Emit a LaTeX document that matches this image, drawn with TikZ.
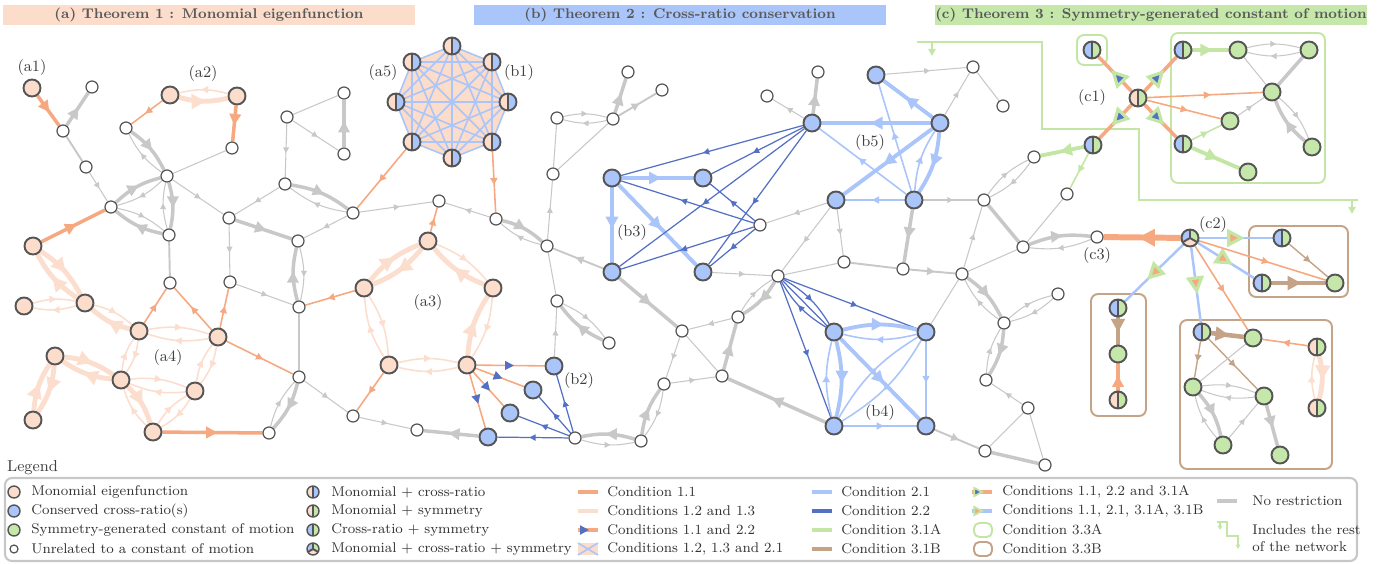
\documentclass[tikz,border=0pt]{standalone}
\usepackage{tikz}
\usetikzlibrary{arrows.meta, backgrounds, decorations.markings}
\definecolor{monocol}{RGB}{252, 220, 203}
\definecolor{xratcol}{RGB}{170, 197, 250}
\definecolor{symcol}{RGB}{197, 232, 170}
\definecolor{nodeline}{RGB}{85, 85, 85}
\definecolor{c11col}{RGB}{246, 168, 128}
\definecolor{c12col}{RGB}{252, 222, 206}
\definecolor{c21col}{RGB}{170, 197, 250}
\definecolor{c22col}{RGB}{84, 112, 196}
\definecolor{c31acol}{RGB}{195, 230, 165}
\definecolor{c31bcol}{RGB}{196, 163, 134}
\definecolor{freecol}{RGB}{200, 200, 200}
\tikzset{
  % network nodes
  dot/.style    = {circle, draw=nodeline, line width=0.7pt, fill=white,
                   minimum size=2.4mm, inner sep=0pt},
  big/.style    = {circle, draw=nodeline, line width=1.1pt,
                   minimum size=3.4mm, inner sep=0pt},
  mono/.style   = {big, fill=monocol},
  xrat/.style   = {big, fill=xratcol},
  symm/.style   = {big, fill=symcol},
  half/.style 2 args = {big, path picture={
      \fill[#1] (path picture bounding box.south west) rectangle
                (path picture bounding box.north);
      \fill[#2] (path picture bounding box.south) rectangle
                (path picture bounding box.north east);
      \draw[nodeline, line width=1.1pt] (path picture bounding box.south)
                -- (path picture bounding box.north);}},
  monoxr/.style = {half={monocol}{xratcol}},
  monosy/.style = {half={monocol}{symcol}},
  xrsy/.style   = {half={xratcol}{symcol}},
  allthree/.style = {big, path picture={
      \fill[xratcol] (path picture bounding box.center) -- +(90:4mm)
                -- +(150:8mm) -- +(210:4mm) -- cycle;
      \fill[symcol] (path picture bounding box.center) -- +(90:4mm)
                -- +(30:8mm) -- +(-30:4mm) -- cycle;
      \fill[monocol] (path picture bounding box.center) -- +(210:4mm)
                -- +(270:8mm) -- +(330:4mm) -- cycle;
      \draw[nodeline, line width=1.1pt]
                (path picture bounding box.center) -- +(90:3mm)
                (path picture bounding box.center) -- +(210:3mm)
                (path picture bounding box.center) -- +(330:3mm);}},
  % edges, one style per condition
  free/.style   = {draw=freecol, line width=0.6pt},
  freem/.style  = {draw=freecol, line width=1.1pt},
  freet/.style  = {draw=freecol, line width=2pt},
  c11/.style    = {draw=c11col, line width=0.9pt},
  c11t/.style   = {draw=c11col, line width=2pt},
  c11v/.style   = {draw=c11col, line width=3.4pt},
  c12/.style    = {draw=c12col, line width=0.9pt},
  c12t/.style   = {draw=c12col, line width=2.8pt},
  c21/.style    = {draw=c21col, line width=0.9pt},
  c21m/.style   = {draw=c21col, line width=1.4pt},
  c21t/.style   = {draw=c21col, line width=2.2pt},
  c22/.style    = {draw=c22col, line width=0.7pt},
  c31a/.style   = {draw=c31acol, line width=0.9pt},
  c31at/.style  = {draw=c31acol, line width=2.2pt},
  c31b/.style   = {draw=c31bcol, line width=0.8pt},
  c31bt/.style  = {draw=c31bcol, line width=2.6pt},
  arr/.style    = {postaction={decorate, decoration={markings,
                   mark=at position 0.55 with
                   {\arrow{Triangle[length=2pt 2.2, width=2pt 2.2]}}}}},
  arrb/.style   = {postaction={decorate, decoration={markings,
                   mark=at position 0.55 with
                   {\arrow{Triangle[color=c22col, length=5pt, width=5pt]}}}}},
  arrcomb/.style = {postaction={decorate, decoration={markings,
                   mark=at position 0.62 with
                   {\arrow{Triangle[fill=#1, color=c31acol, line width=1.8pt,
                    length=10pt, width=10pt]}}}}},
  % boxes and text
  zoneA/.style  = {draw=c31acol, line width=1.1pt, rounded corners=4pt},
  zoneB/.style  = {draw=c31bcol, line width=1.1pt, rounded corners=4pt},
  rest/.style   = {draw=c31acol, line width=1.1pt},
  thm/.style    = {font=\footnotesize\bfseries, text=black!65, inner sep=0pt,
                   minimum width=82.4mm, minimum height=4mm},
  sublbl/.style = {font=\small, text=black!75, inner sep=1pt},
  lgtext/.style = {font=\footnotesize, text=black!80, anchor=west,
                   inner sep=0pt},
  lgsym/.style  = {minimum size=2.4mm, line width=0.8pt},
  lgbox/.style  = {draw=black!22, line width=1.2pt, rounded corners=4pt},
}
% a pair of opposite edges drawn as a lens
\newcommand{\twoway}[5][left]{%
  \draw[#4] (#2) to[bend #1=14] (#3);
  \draw[#5] (#3) to[bend #1=14] (#2);}

\begin{document}
\begin{tikzpicture}[x=0.2mm, y=-0.2mm]
  \useasboundingbox (0,0) rectangle (1380,563);

  %% ---------------- theorem bars ----------------
  \node[thm, fill=monocol] (barA) at (209,15)
       {(a) Theorem 1 : Monomial eigenfunction};
  \node[thm, fill=xratcol] (barB) at (680,15)
       {(b) Theorem 2 : Cross-ratio conservation};
  \node[thm, fill=symcol] (barC) at (1151,15)
       {(c) Theorem 3 : Symmetry-generated constant of motion};

  %% ---------------- unrelated nodes ----------------
  \node[dot] (w1) at (92,87) {};    \node[dot] (w2) at (63,131) {};
  \node[dot] (w3) at (86,167) {};   \node[dot] (w4) at (111,207) {};
  \node[dot] (w5) at (126,128) {};  \node[dot] (w6) at (232,148) {};
  \node[dot] (w7) at (167,176) {};  \node[dot] (w8) at (169,235) {};
  \node[dot] (w9) at (287,117) {};  \node[dot] (w10) at (344,93) {};
  \node[dot] (w11) at (344,154) {}; \node[dot] (w12) at (285,184) {};
  \node[dot] (w13) at (229,218) {}; \node[dot] (w14) at (353,213) {};
  \node[dot] (w15) at (439,201) {}; \node[dot] (w16) at (298,241) {};
  \node[dot] (w17) at (496,219) {}; \node[dot] (w18) at (547,246) {};
  \node[dot] (w19) at (557,301) {}; \node[dot] (w20) at (609,343) {};
  \node[dot] (w21) at (557,118) {}; \node[dot] (w22) at (613,119) {};
  \node[dot] (w23) at (628,72) {};  \node[dot] (w24) at (662,90) {};
  \node[dot] (w25) at (553,174) {}; \node[dot] (w26) at (170,283) {};
  \node[dot] (w27) at (230,282) {}; \node[dot] (w28) at (299,307) {};
  \node[dot] (w29) at (299,377) {}; \node[dot] (w30) at (353,416) {};
  \node[dot] (w31) at (417,430) {}; \node[dot] (w32) at (269,433) {};
  \node[dot] (w33) at (575,438) {}; \node[dot] (w34) at (641,441) {};
  \node[dot] (w35) at (664,384) {}; \node[dot] (w36) at (682,331) {};
  \node[dot] (w37) at (722,376) {}; \node[dot] (w38) at (738,317) {};
  \node[dot] (w39) at (778,276) {}; \node[dot] (w40) at (760,225) {};
  \node[dot] (w41) at (767,96) {};  \node[dot] (w42) at (818,72) {};
  \node[dot] (w43) at (844,262) {}; \node[dot] (w44) at (903,269) {};
  \node[dot] (w45) at (962,274) {}; \node[dot] (w46) at (973,67) {};
  \node[dot] (w47) at (1003,106) {}; \node[dot] (w48) at (984,200) {};
  \node[dot] (w49) at (1034,157) {}; \node[dot] (w50) at (1067,194) {};
  \node[dot] (w51) at (1023,247) {}; \node[dot] (w52) at (1097,237) {};
  \node[dot] (w53) at (1058,294) {}; \node[dot] (w54) at (1004,323) {};
  \node[dot] (w55) at (986,380) {}; \node[dot] (w56) at (1028,408) {};
  \node[dot] (w57) at (985,451) {}; \node[dot] (w58) at (1045,465) {};

  %% ---------------- (a) monomial nodes ----------------
  \node[mono] (a1) at (32,88) {};
  \node[mono] (a2l) at (170,95) {};  \node[mono] (a2r) at (237,96) {};
  \node[mono] (m1) at (33,246) {};   \node[mono] (m2) at (85,303) {};
  \node[mono] (m3) at (24,306) {};   \node[mono] (m4) at (139,331) {};
  \node[mono] (m5) at (218,337) {};  \node[mono] (m6) at (55,356) {};
  \node[mono] (m7) at (121,380) {};  \node[mono] (m8) at (195,391) {};
  \node[mono] (m9) at (33,420) {};   \node[mono] (m10) at (153,432) {};
  \node[mono] (a3t) at (428,241) {}; \node[mono] (a3l) at (364,288) {};
  \node[mono] (a3r) at (493,288) {}; \node[mono] (a3bl) at (389,365) {};
  \node[mono] (a3br) at (467,365) {};
  % the octagon (a5)/(b1)
  \node[monoxr] (o1) at (452,46) {};  \node[monoxr] (o2) at (492,62) {};
  \node[monoxr] (o3) at (508,102) {}; \node[monoxr] (o4) at (492,142) {};
  \node[monoxr] (o5) at (452,158) {}; \node[monoxr] (o6) at (412,142) {};
  \node[monoxr] (o7) at (396,102) {}; \node[monoxr] (o8) at (412,62) {};

  %% ---------------- (b) cross-ratio nodes ----------------
  \node[xrat] (b2a) at (554,366) {}; \node[xrat] (b2b) at (533,390) {};
  \node[xrat] (b2c) at (510,413) {}; \node[xrat] (b2d) at (488,437) {};
  \node[xrat] (b3a) at (612,178) {}; \node[xrat] (b3b) at (703,178) {};
  \node[xrat] (b3c) at (612,272) {}; \node[xrat] (b3d) at (703,272) {};
  \node[xrat] (b5a) at (812,123) {}; \node[xrat] (b5b) at (876,75) {};
  \node[xrat] (b5c) at (940,123) {}; \node[xrat] (b5d) at (836,200) {};
  \node[xrat] (b5e) at (914,200) {};
  \node[xrat] (b4a) at (834,332) {}; \node[xrat] (b4b) at (926,332) {};
  \node[xrat] (b4c) at (834,426) {}; \node[xrat] (b4d) at (926,426) {};

  %% ---------------- (c) symmetry nodes ----------------
  \node[monosy] (c1) at (1138,98) {};
  \node[xrsy] (c1tl) at (1092,50) {};  \node[xrsy] (c1tr) at (1183,50) {};
  \node[xrsy] (c1bl) at (1093,145) {}; \node[xrsy] (c1br) at (1183,144) {};
  \node[symm] (g1) at (1238,50) {};  \node[symm] (g2) at (1309,50) {};
  \node[symm] (g3) at (1272,92) {};  \node[symm] (g4) at (1230,121) {};
  \node[symm] (g5) at (1312,147) {}; \node[symm] (g6) at (1248,172) {};
  \node[allthree] (c2) at (1190,238) {};
  \node[xrsy] (cs1) at (1282,238) {}; \node[xrsy] (cs2) at (1262,283) {};
  \node[xrsy] (cs3) at (1118,308) {}; \node[xrsy] (cs4) at (1202,332) {};
  \node[symm] (g7) at (1335,283) {};  \node[symm] (g8) at (1118,354) {};
  \node[symm] (g9) at (1253,338) {};  \node[symm] (g10) at (1193,387) {};
  \node[symm] (g11) at (1264,396) {}; \node[symm] (g12) at (1223,445) {};
  \node[symm] (g13) at (1280,455) {};
  \node[monosy] (ms1) at (1118,400) {}; \node[monosy] (ms2) at (1317,347) {};
  \node[monosy] (ms3) at (1317,408) {};

  %% ---------------- sub-labels ----------------
  \node[sublbl] (la1) at (32,68) {(a1)};
  \node[sublbl] (la2) at (203,74) {(a2)};
  \node[sublbl] (la3) at (428,303) {(a3)};
  \node[sublbl] (la4) at (168,358) {(a4)};
  \node[sublbl] (la5) at (383,73) {(a5)};
  \node[sublbl] (lb1) at (519,73) {(b1)};
  \node[sublbl] (lb2) at (579,381) {(b2)};
  \node[sublbl] (lb3) at (632,233) {(b3)};
  \node[sublbl] (lb4) at (880,413) {(b4)};
  \node[sublbl] (lb5) at (870,143) {(b5)};
  \node[sublbl] (lc1) at (1092,98) {(c1)};
  \node[sublbl] (lc2) at (1213,225) {(c2)};
  \node[sublbl] (lc3) at (1097,256) {(c3)};

  \begin{scope}[on background layer]
    %% octagon, conditions 1.2, 1.3 and 2.1 together
    \fill[monocol] (o1.center) -- (o2.center) -- (o3.center) -- (o4.center)
      -- (o5.center) -- (o6.center) -- (o7.center) -- (o8.center) -- cycle;
    \foreach \i in {1,...,7} {
      \pgfmathtruncatemacro\k{\i+1}
      \foreach \j in {\k,...,8}
        \draw[c21] (o\i.center) -- (o\j.center);
    }

    %% boxes of condition 3.3A / 3.3B and the rest of the network
    \draw[zoneA] (1077,35) rectangle (1107,65);
    \draw[zoneA] (1171,33) rectangle (1325,183);
    \draw[zoneB] (1249,226) rectangle (1348,297);
    \draw[zoneB] (1091,294) rectangle (1146,416);
    \draw[zoneB] (1180,320) rectangle (1332,469);
    \draw[rest] (917,42) -- (1042,42) -- (1042,129) -- (1139,129)
      -- (1139,200) -- (1358,200);
    \draw[rest, -{Triangle[length=4pt, width=4pt]}] (932,42) -- (932,56);
    \draw[rest, -{Triangle[length=4pt, width=4pt]}] (1352,200) -- (1352,214);

    %% ---------------- (a) edges ----------------
    \draw[c11t, arr] (a1) -- (w2);
    \draw[freet, arr] (w2) -- (w1);
    \draw[freem] (w2) -- (w3);
    \draw[free, arr] (w3) -- (w4);
    \twoway[right]{a2l}{a2r}{c12t, arr}{c12, arr}
    \draw[c11, arr] (a2l) -- (w5);
    \draw[c11t, arr] (a2r) -- (w6);
    \twoway{w5}{w7}{freet, arr}{free, arr}
    \draw[free] (w6) -- (w7);
    \twoway{w4}{w7}{freet, arr}{free, arr}
    \twoway{w7}{w8}{freet, arr}{free, arr}
    \twoway{w8}{w4}{freet, arr}{free, arr}
    \draw[free, arr] (w7) -- (w13);
    \draw[freet, arr] (w13) -- (w16);
    \draw[free, arr] (w12) -- (w13);
    \draw[free, arr] (w9) -- (w12);
    \draw[free, arr] (w9) -- (w11);
    \draw[free] (w9) -- (w10);
    \draw[freet, arr] (w11) -- (w10);
    \twoway{w12}{w14}{freet, arr}{free, arr}
    \draw[free, arr] (w14) -- (w16);
    \draw[free, arr] (w14) -- (w15);
    \draw[c11, arr] (o6) -- (w14);
    \draw[free, arr] (w13) -- (w27);
    \twoway{w28}{w16}{freet, arr}{free, arr}
    \draw[c11, arr] (a3t) -- (w15);
    \draw[free, arr] (w17) -- (w15);
    \draw[c11, arr] (o4) -- (w17);
    \twoway{w17}{w18}{freet, arr}{free, arr}
    \draw[free, arr] (w18) -- (w25);
    \draw[free] (w25) -- (w21);
    \twoway{w21}{w22}{free, arr}{free, arr}
    \draw[free] (w25) -- (w22);
    \draw[freet, arr] (w22) -- (w23);
    \draw[freem, arr] (w22) -- (w24);
    \draw[free] (w18) -- (w19);
    \twoway{w19}{w20}{free, arr}{freet, arr}
    \draw[free, arr] (b2a) -- (w19);
    \draw[freet, arr] (b2d) -- (w31);
    \draw[free, arr] (w30) -- (w31);
    \draw[c11, arr] (a3bl) -- (w30);
    \draw[free, arr] (w29) -- (w30);
    \draw[c11, arr] (m5) -- (w29);
    \twoway{w29}{w32}{freet, arr}{free, arr}
    \draw[c11t, arr] (m10) -- (w32);
    \draw[freem] (w28) -- (w29);
    \draw[c11, arr] (a3l) -- (w28);
    \draw[free, arr] (w27) -- (w28);
    \draw[c11, arr] (m5) -- (w27);
    \draw[c11, arr] (m5) -- (w26);
    \draw[freem] (w8) -- (w26);
    \draw[c11, arr] (m4) -- (w26);
    \draw[c11t, arr] (m1) -- (w4);
    % (a4), conditions 1.2 and 1.3
    \twoway{m1}{m2}{c12t, arr}{c12t, arr}
    \twoway{m3}{m2}{c12, arr}{c12, arr}
    \twoway{m4}{m2}{c12t, arr}{c12, arr}
    \twoway{m4}{m5}{c12, arr}{c12, arr}
    \twoway{m4}{m7}{c12, arr}{c12, arr}
    \twoway{m5}{m8}{c12, arr}{c12, arr}
    \twoway{m7}{m6}{c12t, arr}{c12t, arr}
    \twoway{m6}{m9}{c12t, arr}{c12t, arr}
    \twoway{m7}{m8}{c12, arr}{c12, arr}
    \twoway{m7}{m10}{c12t, arr}{c12, arr}
    \twoway{m8}{m10}{c12, arr}{c12, arr}
    % (a3)
    \twoway{a3l}{a3t}{c12t, arr}{c12t, arr}
    \twoway{a3r}{a3t}{c12t, arr}{c12, arr}
    \twoway{a3br}{a3r}{c12t, arr}{c12, arr}
    \twoway{a3l}{a3bl}{c12, arr}{c12, arr}
    \twoway{a3bl}{a3br}{c12, arr}{c12, arr}

    %% ---------------- (b) edges ----------------
    \draw[c11, arrb] (a3br) -- (b2a);
    \draw[c11, arrb] (a3br) -- (b2b);
    \draw[c11, arrb] (a3br) -- (b2c);
    \draw[c11, arrb] (a3br) -- (b2d);
    \draw[c22, arr] (w33) -- (b2a);
    \draw[c22, arr] (w33) -- (b2b);
    \draw[c22, arr] (w33) -- (b2c);
    \draw[c22, arr] (w33) -- (b2d);
    \twoway[right]{w34}{w33}{freet, arr}{free, arr}
    \draw[c21t, arr] (b3a) -- (b3b);
    \draw[c21t, arr] (b3a) -- (b3c);
    \draw[c21t, arr] (b3a) -- (b3d);
    \draw[c22, arr] (b5a) -- (b3a);
    \draw[c22, arr] (b5a) -- (b3b);
    \draw[c22, arr] (b5a) -- (b3c);
    \draw[c22, arr] (b5a) -- (b3d);
    \draw[c22, arr] (w40) -- (b3a);
    \draw[c22, arr] (w40) -- (b3b);
    \draw[c22, arr] (w40) -- (b3c);
    \draw[c22, arr] (w40) -- (b3d);
    \draw[free, arr] (b3d) -- (w39);
    \draw[freet, arr] (b3c) -- (w36);
    \draw[freem, arr] (b3c) -- (w18);
    \draw[free, arr] (b5d) -- (w40);
    \draw[free, arr] (b5d) -- (w39);
    \draw[free, arr] (b5d) -- (w43);
    \draw[free] (w39) -- (w43);
    \draw[free, arr] (b5a) -- (w41);
    \draw[freet, arr] (b5a) -- (w42);
    \draw[c21t, arr] (b5c) -- (b5a);
    \draw[c21, arr] (b5e) -- (b5a);
    \draw[c21t, arr] (b5c) -- (b5b);
    \draw[c21, arr] (b5e) -- (b5b);
    \draw[c21t, arr] (b5c) -- (b5d);
    \twoway{b5c}{b5e}{c21t, arr}{c21, arr}
    \draw[c21, arr] (b5e) -- (b5d);
    \draw[free, arr] (b5b) -- (w46);
    \draw[free, arr] (b5c) -- (w46);
    \draw[free] (w46) -- (w47);
    \draw[free, arr] (b5e) -- (w48);
    \draw[freet, arr] (b5e) -- (w44);
    \draw[freem] (w43) -- (w44);
    \draw[freem, arr] (w44) -- (w45);
    % (b4)
    \draw[c22, arr] (w39) -- (b4b);
    \twoway{w39}{b4a}{c22, arr}{c22, arr}
    \draw[c22, arr] (w39) -- (b4c);
    \draw[c22] (w39) -- (b4d);
    \twoway{w39}{w38}{freet, arr}{free, arr}
    \draw[free, arr] (w38) -- (w36);
    \draw[freet, arr] (w37) -- (w38);
    \draw[free] (w36) -- (w37);
    \draw[free, arr] (w36) -- (w35);
    \draw[free, arr] (w35) -- (w37);
    \twoway{w34}{w35}{freet, arr}{free, arr}
    \draw[freet, arr] (b4c) -- (w37);
    \twoway{b4a}{b4b}{c21t, arr}{c21, arr}
    \twoway{b4a}{b4c}{c21t, arr}{c21, arr}
    \draw[c21t, arr] (b4a) -- (b4d);
    \twoway{b4b}{b4c}{c21, arr}{c21, arr}
    \draw[c21, arr] (b4b) -- (b4d);
    \draw[c21, arr] (b4c) -- (b4d);
    \draw[free] (w45) -- (b4b);

    %% ---------------- (c) edges ----------------
    \twoway{w48}{w49}{free, arr}{free, arr}
    \draw[c31at, arr] (c1bl) -- (w49);
    \draw[c31a, arr] (c1bl) -- (w50);
    \draw[freet] (w48) -- (w51);
    \draw[free, arr] (w45) -- (w48);
    \draw[free] (w45) -- (w51);
    \draw[free] (w50) -- (w51);
    \twoway{w51}{w52}{freet, arr}{free, arr}
    \draw[c11v, arr] (c2) -- (w52);
    \twoway{w45}{w54}{freet, arr}{free, arr}
    \twoway{w54}{w53}{free, arr}{free, arr}
    \twoway{w54}{w55}{freet, arr}{free, arr}
    \draw[free, arr] (w56) -- (w55);
    \draw[free] (w56) -- (w58);
    \draw[free] (w57) -- (w56);
    \draw[freem, arr] (b4d) -- (w57);
    \draw[freet] (w57) -- (w58);
    \draw[c11t, arrcomb=c22col] (c1) -- (c1tl);
    \draw[c11t, arrcomb=c22col] (c1) -- (c1tr);
    \draw[c11t, arrcomb=c22col] (c1) -- (c1bl);
    \draw[c11t, arrcomb=c22col] (c1) -- (c1br);
    \draw[c11, arr] (c1) -- (g3);
    \draw[c11, arr] (c1) -- (g4);
    \draw[c31at, arr] (c1tr) -- (g1);
    \twoway{g1}{g2}{free, arr}{free, arr}
    \draw[free] (g1) -- (g3);
    \draw[freet] (g2) -- (g3);
    \draw[free, arr] (g4) -- (g3);
    \twoway{g5}{g3}{freet, arr}{free, arr}
    \draw[c31a, arr] (c1br) -- (g4);
    \draw[c31at, arr] (c1br) -- (g6);
    \draw[c21m, arrcomb=c11col] (c2) -- (cs1);
    \draw[c21m, arrcomb=c11col] (c2) -- (cs2);
    \draw[c21m, arrcomb=c11col] (c2) -- (cs3);
    \draw[c21m, arrcomb=c11col] (c2) -- (cs4);
    \draw[c11, arr] (c2) -- (g7);
    \draw[c11, arr] (c2) -- (g9);
    \draw[c31b, arr] (cs1) -- (g7);
    \draw[c31bt, arr] (cs2) -- (g7);
    \draw[c31bt, arr] (cs3) -- (g8);
    \draw[c11t, arr] (ms1) -- (g8);
    \draw[c31bt, arr] (cs4) -- (g9);
    \draw[c31b, arr] (cs4) -- (g10);
    \draw[c31b, arr] (cs4) -- (g11);
    \draw[c11, arr] (ms2) -- (g9);
    \twoway{ms2}{ms3}{c12t, arr}{c12, arr}
    \twoway{g11}{g10}{free, arr}{free, arr}
    \twoway{g10}{g12}{freet, arr}{free, arr}
    \draw[free, arr] (g12) -- (g11);
    \draw[free] (g9) -- (g10);
    \draw[freet, arr] (g11) -- (g13);
  \end{scope}

  %% ---------------- legend ----------------
  \node[sublbl, anchor=west] (lgtitle) at (5,468) {Legend};
  \draw[lgbox] (5,478) rectangle (1357,561);

  \node[mono, lgsym] (k1) at (14,492) {};
  \node[lgtext] (t1) at (31,492) {Monomial eigenfunction};
  \node[xrat, lgsym] (k2) at (14,511) {};
  \node[lgtext] (t2) at (31,511) {Conserved cross-ratio(s)};
  \node[symm, lgsym] (k3) at (14,530) {};
  \node[lgtext] (t3) at (31,530) {Symmetry-generated constant of motion};
  \node[dot, minimum size=1.6mm] (k4) at (14,549) {};
  \node[lgtext] (t4) at (31,549) {Unrelated to a constant of motion};

  \node[monoxr, lgsym] (k5) at (313,492) {};
  \node[lgtext] (t5) at (331,492) {Monomial $+$ cross-ratio};
  \node[monosy, lgsym] (k6) at (313,511) {};
  \node[lgtext] (t6) at (331,511) {Monomial $+$ symmetry};
  \node[xrsy, lgsym] (k7) at (313,530) {};
  \node[lgtext] (t7) at (331,530) {Cross-ratio $+$ symmetry};
  \node[allthree, lgsym] (k8) at (313,549) {};
  \node[lgtext] (t8) at (331,549) {Monomial $+$ cross-ratio $+$ symmetry};

  \draw[c11t] (578,492) -- (598,492);
  \node[lgtext] (t9) at (607,492) {Condition 1.1};
  \draw[c12t] (578,511) -- (598,511);
  \node[lgtext] (t10) at (607,511) {Conditions 1.2 and 1.3};
  \draw[c11t, arrb] (578,530) -- (598,530);
  \node[lgtext] (t11) at (607,530) {Conditions 1.1 and 2.2};
  \fill[monocol] (578,543) rectangle (598,555);
  \draw[c21] (578,543) -- (598,555) (578,555) -- (598,543);
  \node[lgtext] (t12) at (607,549) {Conditions 1.2, 1.3 and 2.1};

  \draw[c21t] (812,492) -- (832,492);
  \node[lgtext] (t13) at (841,492) {Condition 2.1};
  \draw[c22, line width=2.2pt] (812,511) -- (832,511);
  \node[lgtext] (t14) at (841,511) {Condition 2.2};
  \draw[c31at] (812,530) -- (832,530);
  \node[lgtext] (t15) at (841,530) {Condition 3.1A};
  \draw[c31bt] (812,549) -- (832,549);
  \node[lgtext] (t16) at (841,549) {Condition 3.1B};

  \draw[c11t, postaction={decorate, decoration={markings,
        mark=at position 0.6 with {\arrow{Triangle[fill=c22col,
        color=c31acol, line width=1pt, length=6pt, width=6pt]}}}}]
        (972,492) -- (992,492);
  \node[lgtext] (t17) at (1002,492) {Conditions 1.1, 2.2 and 3.1A};
  \draw[c21t, postaction={decorate, decoration={markings,
        mark=at position 0.6 with {\arrow{Triangle[fill=c11col,
        color=c31acol, line width=1pt, length=6pt, width=6pt]}}}}]
        (972,511) -- (992,511);
  \node[lgtext] (t18) at (1002,511) {Conditions 1.1, 2.1, 3.1A, 3.1B};
  \draw[zoneA, rounded corners=3pt] (974,523) rectangle (992,537);
  \node[lgtext] (t19) at (1002,530) {Condition 3.3A};
  \draw[zoneB, rounded corners=3pt] (974,542) rectangle (992,556);
  \node[lgtext] (t20) at (1002,549) {Condition 3.3B};

  \draw[freet] (1217,501) -- (1237,501);
  \node[lgtext] (t21) at (1252,501) {No restriction};
  \draw[rest, line width=0.8pt] (1217,522) -- (1227,522) -- (1227,536)
    -- (1238,536) -- (1238,547);
  \draw[rest, line width=0.8pt, -{Triangle[length=2.5pt, width=2.5pt]}]
    (1220,522) -- (1220,530);
  \draw[rest, line width=0.8pt, -{Triangle[length=2.5pt, width=2.5pt]}]
    (1238,541) -- (1238,549);
  \node[lgtext, align=left] (t22) at (1252,538)
       {Includes the rest\\of the network};
\end{tikzpicture}
\end{document}
